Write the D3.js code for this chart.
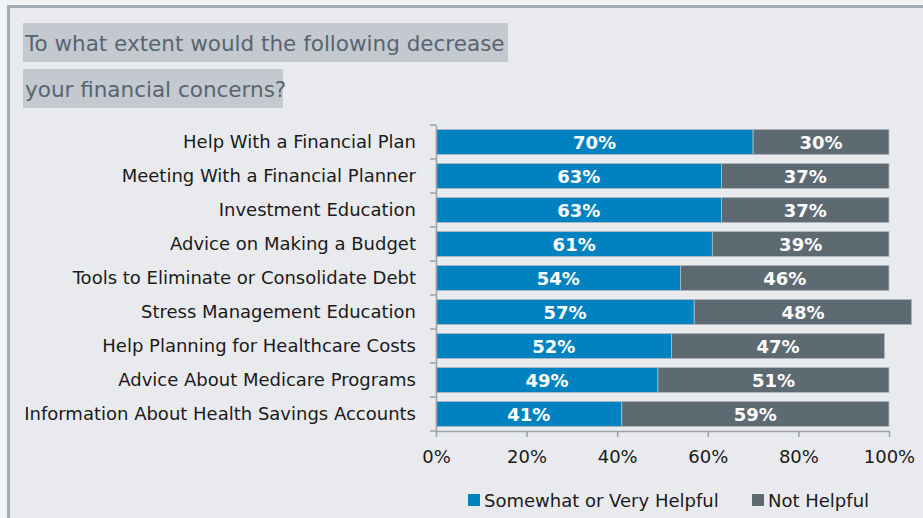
<!DOCTYPE html>
<html>
<head>
<meta charset="utf-8">
<script src="https://cdn.jsdelivr.net/npm/d3@7"></script>
<style>
  html, body { margin: 0; padding: 0; background: #f2f3f5; }
  svg { display: block; }
</style>
</head>
<body>
<svg id="chart" width="923" height="518"></svg>
<script>
// Survey items, top to bottom
const categories = [
  "Help With a Financial Plan",
  "Meeting With a Financial Planner",
  "Investment Education",
  "Advice on Making a Budget",
  "Tools to Eliminate or Consolidate Debt",
  "Stress Management Education",
  "Help Planning for Healthcare Costs",
  "Advice About Medicare Programs",
  "Information About Health Savings Accounts"
];
const helpful    = [70, 63, 63, 61, 54, 57, 52, 49, 41];
const notHelpful = [30, 37, 37, 39, 46, 48, 47, 51, 59];
const seriesNames = ["Somewhat or Very Helpful", "Not Helpful"];
const tickValues = [0, 20, 40, 60, 80, 100];
const titleLines = ["To what extent would the following decrease", "your financial concerns?"];

const colors = ["#0082c0", "#5e6a72"];
const font = "'DejaVu Sans', Verdana, sans-serif";

const svg = d3.select("#chart");
const W = 923, H = 518;

// panel background and frame
svg.append("rect").attr("x", 8.5).attr("y", 6.5).attr("width", W).attr("height", H)
  .attr("fill", "#e9eaee").attr("stroke", "#a3abb3").attr("stroke-width", 3);

// title with highlighted line boxes
const titleBoxes = [[23, 23, 485, 39], [23, 69, 260, 39]];
titleLines.forEach((t, i) => {
  const b = titleBoxes[i];
  svg.append("rect").attr("x", b[0]).attr("y", b[1]).attr("width", b[2]).attr("height", b[3])
    .attr("fill", "#c4c9d0");
  svg.append("text").attr("x", 25).attr("y", b[1] + 28)
    .attr("font-family", font).attr("font-size", 21.5).attr("fill", "#58656f")
    .text(t);
});

const x = d3.scaleLinear().domain([0, 100]).range([436, 889]);
const y = d3.scaleBand().domain(categories).range([125, 431]).paddingInner(0.26).paddingOuter(0.13);

const rows = categories.map((c, i) => ({ c, v: [helpful[i], notHelpful[i]] }));

// stacked segments
rows.forEach(r => {
  let start = 0;
  r.v.forEach((v, k) => {
    svg.append("rect")
      .attr("x", x(start)).attr("y", y(r.c))
      .attr("width", x(start + v) - x(start)).attr("height", y.bandwidth())
      .attr("fill", colors[k]).attr("stroke", "#b4bcc4").attr("stroke-width", 0.8);
    svg.append("text")
      .attr("x", x(start + v / 2)).attr("y", y(r.c) + y.bandwidth() / 2 + 7)
      .attr("text-anchor", "middle").attr("font-family", font).attr("font-weight", "bold")
      .attr("font-size", 18).attr("fill", "#ffffff")
      .text(v + "%");
    start += v;
  });
});

// category axis
const yAxis = svg.append("g").attr("transform", "translate(436,0)")
  .call(d3.axisLeft(y).tickSize(0).tickPadding(20));
yAxis.select(".domain").attr("stroke", "#9aa0a6").attr("stroke-width", 1.5);
yAxis.selectAll("text").attr("font-family", font).attr("font-size", 18).attr("fill", "#1a1a1a");
// tick marks between categories
const bounds = categories.map(c => y(c) - y.step() * y.paddingInner() / 2).concat([431]);
yAxis.selectAll(".sep").data(bounds).enter().append("line")
  .attr("x1", -6).attr("x2", 0).attr("y1", d => d).attr("y2", d => d)
  .attr("stroke", "#9aa0a6").attr("stroke-width", 1.5);

// value axis
const xAxis = svg.append("g").attr("transform", "translate(0,431)")
  .call(d3.axisBottom(x).tickValues(tickValues).tickFormat(d => d + "%").tickSize(6).tickSizeOuter(0).tickPadding(13));
xAxis.select(".domain").attr("stroke", "#9aa0a6").attr("stroke-width", 1.5);
xAxis.selectAll("line").attr("stroke", "#9aa0a6").attr("stroke-width", 1.5);
xAxis.selectAll("text").attr("font-family", font).attr("font-size", 18).attr("fill", "#1a1a1a");

// legend
const legendX = [468, 752];
seriesNames.forEach((n, k) => {
  svg.append("rect").attr("x", legendX[k]).attr("y", 494).attr("width", 12).attr("height", 12)
    .attr("fill", colors[k]);
  svg.append("text").attr("x", legendX[k] + 16).attr("y", 507)
    .attr("font-family", font).attr("font-size", 18).attr("fill", "#1a1a1a")
    .text(n);
});
</script>
</body>
</html>
